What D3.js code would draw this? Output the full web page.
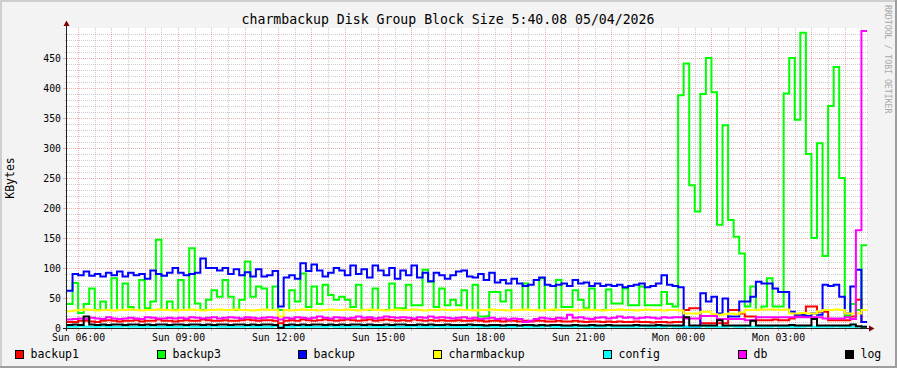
<!DOCTYPE html>
<html><head><meta charset="utf-8">
<script src="https://cdn.jsdelivr.net/npm/d3@7"></script>
<style>html,body{margin:0;padding:0;background:#f3f3f3;} svg{display:block;}</style>
</head><body><svg id="c" width="897" height="368"></svg>
<script>
// ---------- DATA ----------
const chartTitle = "charmbackup Disk Group Block Size 5:40.08 05/04/2026";
const yAxisTitle = "KBytes";
const watermark = "RRDTOOL / TOBI OETIKER";
const seriesNames = ["backup1","backup3","backup","charmbackup","config","db","log"];
const seriesColors = ["#ff0000","#00ff00","#0000ff","#ffff00","#00ffff","#ff00ff","#000000"];
const startTime = new Date(2026, 4, 3, 5, 40, 8);   // Sun 05:40:08
const endTime = new Date(2026, 4, 4, 5, 40, 8);     // Mon 05:40:08
const stepMinutes = 10;
const yTickValues = [0,50,100,150,200,250,300,350,400,450];

const backup1 = [10,10,12,12,11,10,12,13,12,11, 12,12,13,11,12,12,14,12,12,11, 12,13,12,12,14,13,12,12,13,12, 12,13,14,13,12,13,13,12,8,12,
 13,12,14,13,12,13,14,13,12,13, 14,13,12,13,14,12,13,14,13,12, 13,12,14,13,12,13,12,13,12,12, 13,12,12,13,12,11,12,12,11,12,
 12,11,12,11,12,12,11,11,12,11, 11,12,11,10,11,11,10,11,10,11, 10,10,11,10,10,9,10,10,9,10, 10,30,33,33,8,8,8,8,8,30,
 30,24,19,19,13,13,13,14,13,13, 16,19,19,36,36,27,27,13,13,13, 13,19,47,10];
const backup3 = [40,75,25,40,66,30,44,30,83,30, 74,35,30,80,33,44,147,30,44,30, 80,30,133,41,30,47,63,52,80,52, 30,47,111,52,69,66,30,69,30,30,
 63,44,91,35,69,40,72,55,47,52, 47,35,72,30,30,66,30,30,74,33, 33,72,38,38,97,77,35,66,38,47, 38,63,30,72,19,19,60,60,44,63,
 30,30,74,30,30,83,30,30,80,35, 35,63,47,33,66,30,30,64,41,41, 66,38,38,69,38,38,38,60,40,36, 388,441,238,194,390,450,393,172,338,180,
 152,124,36,69,30,36,83,36,36,391, 450,347,492,290,150,308,120,370,435,250, 20,40,30,138];
const backup = [62,90,88,94,87,90,86,92,88,94, 86,92,88,90,82,96,90,87,92,100, 92,88,90,92,116,100,100,96,100,90, 98,88,93,86,98,86,88,95,36,84,
 88,82,108,95,106,96,86,92,100,96, 88,104,90,98,84,104,96,88,100,82, 96,88,104,84,92,78,92,88,82,88, 94,96,86,84,90,80,92,76,80,74,
 82,74,70,72,80,84,72,70,72,74, 70,80,74,76,70,74,70,72,70,72, 68,70,72,74,68,70,74,88,72,70, 68,2,2,2,58,44,52,24,49,19,
 19,44,44,52,77,74,74,66,60,60, 27,22,22,20,24,22,72,70,72,52, 24,69,97,10];
const charmbackup = [28,29,30,31,30,29,30,30,29,30, 30,31,30,29,30,30,31,30,30,29, 30,30,31,30,29,30,30,31,30,30, 31,30,30,29,30,31,30,30,19,30,
 29,30,31,30,30,29,30,31,30,30, 31,30,29,30,31,30,30,29,30,31, 30,30,31,30,29,30,30,31,30,30, 31,30,30,29,30,30,31,30,30,29,
 30,30,31,30,30,29,30,31,30,30, 30,29,30,31,30,30,29,30,30,31, 30,30,29,30,31,30,30,29,30,30, 29,24,24,24,27,27,23,22,23,24,
 23,26,30,30,30,31,31,31,30,31, 24,24,25,24,24,28,30,30,31,30, 24,24,24,30];
const config = [2,2,3,2,2,2,3,2,2,2, 3,2,2,2,2,3,2,2,2,2, 2,3,2,2,2,2,3,2,2,2, 2,2,3,2,2,2,2,3,2,2,
 2,3,2,2,2,2,2,3,2,2, 2,2,2,3,2,2,2,2,3,2, 2,2,3,2,2,2,3,2,2,2, 2,2,2,3,2,2,2,2,3,2,
 2,3,2,2,2,2,3,2,2,2, 2,2,3,2,2,2,2,3,2,2, 2,2,2,3,2,2,2,2,3,2, 2,2,2,2,3,2,2,2,2,3,
 2,2,3,2,2,2,2,3,2,2, 2,2,2,3,2,2,2,2,3,2, 2,2,2,2];
const db = [14,15,16,15,17,16,15,18,16,15, 16,17,16,15,18,17,16,16,17,16, 17,16,18,17,16,17,18,16,17,18, 17,16,18,17,16,17,18,17,14,17,
 16,18,17,16,17,19,17,16,18,17, 16,17,19,17,18,16,17,19,18,17, 18,17,16,18,17,19,17,18,17,16, 17,18,16,17,15,16,17,15,16,14,
 16,15,10,12,15,17,16,15,17,16, 22,17,18,16,15,17,18,16,17,19, 17,18,16,17,18,17,16,18,17,18, 18,16,16,16,20,20,20,15,15,15,
 15,15,13,13,18,18,18,18,18,18, 18,18,18,18,18,18,16,16,16,16, 18,15,163,495];
const log = [5,6,5,19,6,5,6,5,6,6, 5,6,6,5,6,5,6,6,5,6, 6,5,6,6,5,6,5,6,6,5, 6,6,5,6,5,6,6,5,0,5,
 6,5,6,5,6,6,5,6,5,6, 5,6,6,5,6,5,5,6,5,6, 6,5,5,6,5,6,5,5,6,5, 5,5,6,5,5,4,5,5,4,5,
 5,4,5,5,4,5,4,5,5,4, 4,5,4,4,5,4,4,5,4,4, 4,4,5,4,4,4,5,4,4,4, 4,18,4,4,4,4,4,13,4,4,
 4,4,4,12,4,4,4,4,4,4, 5,4,4,4,15,4,4,4,4,4, 4,6,3,2];
const seriesValues = [backup1, backup3, backup, charmbackup, config, db, log];

// ---------- LAYOUT ----------
const W = 897, H = 368;
const L = 67, R = 867, T = 28, B = 328;
const mono = "'DejaVu Sans Mono', monospace";
const svg = d3.select("#c");

svg.append("rect").attr("width", W).attr("height", H).attr("fill", "#f3f3f3");
svg.append("path").attr("d", `M0,0H${W}V2H2V${H}H0Z`).attr("fill", "#cfcfcf");
svg.append("path").attr("d", `M${W},${H}H0V${H-2}H${W-2}V0H${W}Z`).attr("fill", "#9e9e9e");

svg.append("rect").attr("x", L).attr("y", T).attr("width", R - L).attr("height", B - T).attr("fill", "#ffffff");

const x = d3.scaleTime().domain([startTime, endTime]).range([L, R]);
const y = d3.scaleLinear().domain([0, 500]).range([B, T]);

const grid = svg.append("g");
const minorCol = "rgba(143,143,143,0.46)", majorCol = "rgba(222,80,80,0.46)";
// horizontal grid
d3.range(10, 500, 10).forEach(v => {
  const yy = Math.round(y(v)) + 0.5;
  const major = v % 50 === 0;
  grid.append("line").attr("x1", L).attr("x2", R + 1).attr("y1", yy).attr("y2", yy)
    .attr("stroke", major ? majorCol : minorCol).attr("stroke-dasharray", "1,1");
  grid.append("line").attr("x1", L - (major ? 4 : 2)).attr("x2", L).attr("y1", yy).attr("y2", yy)
    .attr("stroke", major ? majorCol : minorCol);
});
// vertical grid
d3.timeMinute.every(30).range(startTime, endTime).forEach(t => {
  const xx = Math.round(x(t)) + 0.5;
  const major = t.getMinutes() === 0;
  grid.append("line").attr("x1", xx).attr("x2", xx).attr("y1", T).attr("y2", B)
    .attr("stroke", major ? majorCol : minorCol).attr("stroke-dasharray", "1,1");
  grid.append("line").attr("x1", xx).attr("x2", xx).attr("y1", B).attr("y2", B + (major ? 3 : 2))
    .attr("stroke", major ? majorCol : minorCol);
});

// axis labels
const yAxis = d3.axisLeft(y).tickValues(yTickValues).tickSize(0).tickPadding(0);
const gy = svg.append("g").attr("transform", `translate(${L - 6},0)`).call(yAxis);
gy.select(".domain").remove();
gy.selectAll("text").attr("font-family", mono).attr("font-size", "9.8px").attr("fill", "#000");

const xTicks = d3.timeHour.every(3).range(startTime, endTime);
const xAxis = d3.axisBottom(x).tickValues(xTicks).tickFormat(d3.timeFormat("%a %H:%M")).tickSize(0).tickPadding(0);
const gx = svg.append("g").attr("transform", `translate(0,${B + 6})`).call(xAxis);
gx.select(".domain").remove();
gx.selectAll("text").attr("font-family", mono).attr("font-size", "9.8px").attr("fill", "#000").attr("dy", "0.71em");

// axes lines and arrows
svg.append("line").attr("x1", L - 0.5).attr("x2", L - 0.5).attr("y1", B + 3).attr("y2", 23).attr("stroke", "#202020");
svg.append("line").attr("x1", L - 4).attr("x2", 870).attr("y1", B + 0.5).attr("y2", B + 0.5).attr("stroke", "#202020");
svg.append("path").attr("d", `M${L-3.5},26L${L+2.5},26L${L-0.5},20.5Z`).attr("fill", "#7f0000");
svg.append("path").attr("d", `M869,${B-2.5}L869,${B+3.5}L874.5,${B+0.5}Z`).attr("fill", "#7f0000");

// series lines
svg.append("clipPath").attr("id", "clip").append("rect").attr("x", L).attr("y", T - 2).attr("width", R - L).attr("height", B - T + 3);
const stepMs = stepMinutes * 60 * 1000;
const line = d3.line().x(d => x(d[0])).y(d => y(d[1])).curve(d3.curveStepAfter);
const gl = svg.append("g").attr("clip-path", "url(#clip)");
seriesValues.forEach((vals, k) => {
  const pts = vals.map((v, i) => [new Date(+startTime + i * stepMs), v]);
  pts.push([endTime, vals[vals.length - 1]]);
  gl.append("path").attr("d", line(pts)).attr("fill", "none")
    .attr("stroke", seriesColors[k]).attr("stroke-width", 2).attr("stroke-linejoin", "miter");
});

// title
svg.append("text").attr("x", 448).attr("y", 24).attr("text-anchor", "middle")
  .attr("font-family", mono).attr("font-size", "13.2px").attr("fill", "#000").text(chartTitle);
// y title
svg.append("text").attr("transform", `translate(14,${(T + B) / 2}) rotate(-90)`).attr("text-anchor", "middle")
  .attr("font-family", mono).attr("font-size", "11.5px").attr("fill", "#000").text(yAxisTitle);
// watermark
svg.append("text").attr("transform", `translate(885,5) rotate(90)`).attr("text-anchor", "start")
  .attr("font-family", mono).attr("font-size", "8.2px").attr("fill", "#a8a8a8").text(watermark);

// legend (justified)
const lg = svg.append("g");
const items = seriesNames.map((n, k) => {
  const g = lg.append("g");
  g.append("rect").attr("x", 0.5).attr("y", 350.5).attr("width", 8).attr("height", 8)
    .attr("fill", seriesColors[k]).attr("stroke", "#000");
  const t = g.append("text").attr("x", 15.5).attr("y", 358).attr("font-family", mono)
    .attr("font-size", "11.5px").attr("fill", "#000").text(n);
  return {g, w: 15.5 + t.node().getComputedTextLength()};
});
const left = 15, right = 881;
const total = d3.sum(items, d => d.w);
const gap = (right - left - total) / (items.length - 1);
let cx = left;
items.forEach(it => { it.g.attr("transform", `translate(${Math.round(cx)},0)`); cx += it.w + gap; });
</script></body></html>
